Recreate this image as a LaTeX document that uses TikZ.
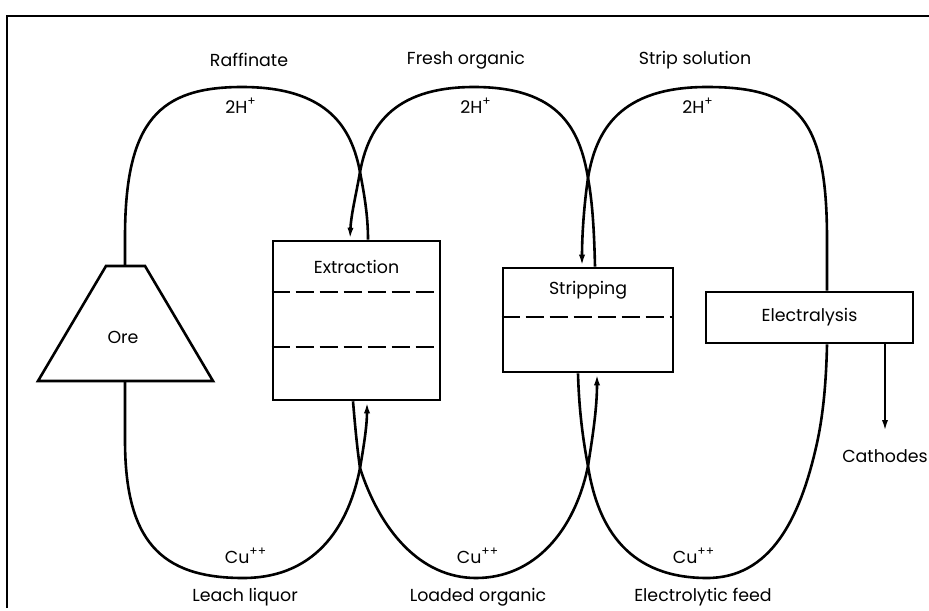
\documentclass[tikz,border=0pt]{standalone}
\usepackage{fontspec}
\setmainfont{Poppins}
\usetikzlibrary{arrows.meta,calc}

\begin{document}
\begin{tikzpicture}[x=0.5pt,y=-0.5pt,line width=1.3pt,
  unit/.style={draw,rectangle,inner sep=0pt},
  lbl/.style={font=\fontsize{8.7}{10}\selectfont},
  sep/.style={line width=1pt,dash pattern=on 9pt off 3pt},
  flow/.style={-{Latex[length=6pt,width=3pt]}}]
\useasboundingbox (0,0) rectangle (929,610);

% Frame
\draw (7,608) -- (7,16) -- (929,16);

% Ore heap
\draw (106,266) -- (145,266) -- (213,381) -- (38,381) -- cycle;
\node[lbl] (ore) at (123,337) {Ore};
\coordinate (oretop) at (125,266);
\coordinate (orebot) at (125,381);

% Units
\node[unit,minimum width=83.5pt,minimum height=79.5pt] (ext) at (356.5,320.5) {};
\node[lbl] (extlbl) at ($(ext.north)+(0,27)$) {Extraction};
\draw[sep] ($(ext.north west)+(0,52)$) -- ($(ext.north east)+(0,52)$);
\draw[sep] ($(ext.north west)+(0,107)$) -- ($(ext.north east)+(0,107)$);

\node[unit,minimum width=85pt,minimum height=52pt] (strip) at (588,320) {};
\node[lbl] (striplbl) at ($(strip.north)+(0,24)$) {Stripping};
\draw[sep] ($(strip.north west)+(0,50)$) -- ($(strip.north east)+(0,50)$);

\node[unit,minimum width=103.5pt,minimum height=25.5pt] (ely) at (809.5,317.5) {};
\node[lbl] (elylbl) at (ely) {Electralysis};

% Ports on the units
\coordinate (extTL) at ($(ext.north)+(-6.5,0)$);
\coordinate (extTR) at ($(ext.north)+(11.5,0)$);
\coordinate (extBL) at ($(ext.south)+(-3.5,0)$);
\coordinate (extBR) at ($(ext.south)+(10.5,0)$);
\coordinate (stTL) at ($(strip.north)+(-6,0)$);
\coordinate (stTR) at ($(strip.north)+(7,0)$);
\coordinate (stBL) at ($(strip.south)+(-10,0)$);
\coordinate (stBR) at ($(strip.south)+(9,0)$);
\coordinate (elyT) at ($(ely.north)+(17.5,0)$);
\coordinate (elyB) at ($(ely.south)+(17.5,0)$);
\coordinate (elyC) at ($(ely.south)+(75.5,0)$);

% Top loops
\draw (extTR) .. controls (368,215) and (364,193) .. (360,172)
  .. controls (352,130) and (330,87) .. (242,87)
  .. controls (160,87) and (125,120) .. (125,237) -- (oretop);
\draw[flow] (stTR) .. controls (594,225) and (592,200) .. (588,178)
  .. controls (580,130) and (560,87) .. (474,87)
  .. controls (390,87) and (368,130) .. (360,172)
  .. controls (356,195) and (351,215) .. (extTL);
\draw[flow] (elyT) -- (827,240) .. controls (827,120) and (800,87) .. (707,87)
  .. controls (620,87) and (596,130) .. (588,178)
  .. controls (584,205) and (582,235) .. (stTL);

% Bottom loops
\draw[flow] (orebot) -- (125,440) .. controls (125,540) and (160,578) .. (243,578)
  .. controls (320,578) and (350,520) .. (360,468)
  .. controls (364,445) and (367,425) .. (extBR);
\draw[flow] (extBL) .. controls (355,425) and (357,447) .. (360,468)
  .. controls (380,530) and (420,578) .. (476,578)
  .. controls (535,578) and (575,530) .. (588,466)
  .. controls (592,440) and (597,410) .. (stBR);
\draw (stBL) .. controls (579,410) and (583,440) .. (588,466)
  .. controls (598,530) and (630,578) .. (707,578)
  .. controls (770,578) and (800,520) .. (817,443)
  .. controls (822,420) and (826,390) .. (elyB);

% Product
\coordinate (cathend) at (885,432);
\draw[flow] (elyC) -- (cathend);
\node[lbl] (cath) at (885,456) {Cathodes};

% Stream names
\node[lbl] (raff) at (249,60) {Raffinate};
\node[lbl] (fresh) at (466,60) {Fresh organic};
\node[lbl] (stsol) at (695,60) {Strip solution};
\node[lbl] (leach) at (245,597) {Leach liquor};
\node[lbl] (loaded) at (478,597) {Loaded organic};
\node[lbl] (efeed) at (703,597) {Electrolytic feed};

% Ions
\node[lbl] (h1) at (241,106) {2H\textsuperscript{+}};
\node[lbl] (h2) at (476,106) {2H\textsuperscript{+}};
\node[lbl] (h3) at (698,106) {2H\textsuperscript{+}};
\node[lbl] (cu1) at (246,556) {Cu\textsuperscript{++}};
\node[lbl] (cu2) at (478,556) {Cu\textsuperscript{++}};
\node[lbl] (cu3) at (694,556) {Cu\textsuperscript{++}};
\end{tikzpicture}
\end{document}
